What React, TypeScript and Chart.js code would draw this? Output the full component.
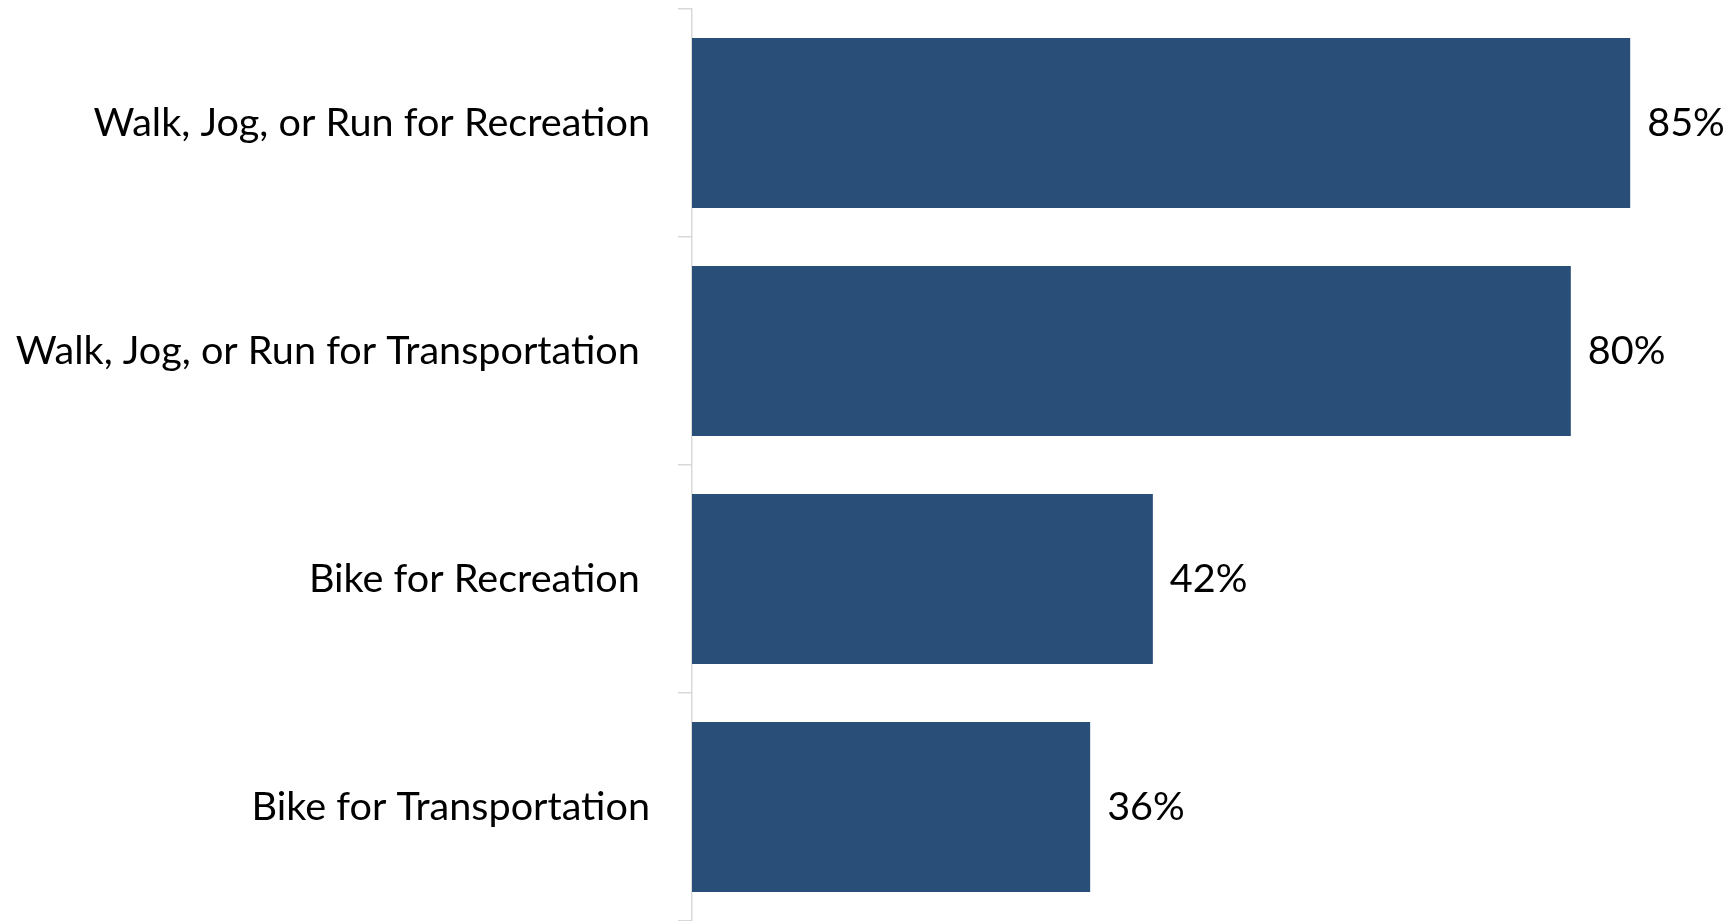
import React, { useEffect, useRef } from "react";
import { Chart, registerables } from "chart.js";

Chart.register(...registerables);

const categories = [
  "Walk, Jog, or Run for Recreation",
  "Walk, Jog, or Run for Transportation ",
  "Bike for Recreation ",
  "Bike for Transportation",
];
const values = [85.3, 79.9, 41.9, 36.2];
const valueLabels = ["85%", "80%", "42%", "36%"];

const FONT_FAMILY = "Lato, 'Noto Sans', sans-serif";
const FONT_SIZE = 39.6;
const BAR_COLOR = "#294E77";

const dataLabelPlugin = {
  id: "dataLabels",
  afterDatasetsDraw(chart: any) {
    const ctx = chart.ctx;
    const meta = chart.getDatasetMeta(0);
    ctx.save();
    ctx.font = `${FONT_SIZE}px ${FONT_FAMILY}`;
    ctx.fillStyle = "#000000";
    ctx.textAlign = "left";
    ctx.textBaseline = "middle";
    meta.data.forEach((bar: any, i: number) => {
      ctx.fillText(valueLabels[i], bar.x + 17, bar.y);
    });
    ctx.restore();
  },
};

export default function App() {
  const ref = useRef<HTMLCanvasElement | null>(null);
  useEffect(() => {
    if (!ref.current) return;
    const chart = new Chart(ref.current, {
      type: "bar",
      data: {
        labels: categories,
        datasets: [
          {
            data: values,
            backgroundColor: BAR_COLOR,
            borderWidth: 0,
            categoryPercentage: 1,
            barPercentage: 0.746,
          },
        ],
      },
      options: {
        indexAxis: "y",
        animation: false,
        responsive: true,
        maintainAspectRatio: false,
        layout: { padding: { top: 9, bottom: -3, left: 0, right: 0 } },
        plugins: {
          legend: { display: false },
          tooltip: { enabled: false },
        },
        scales: {
          x: {
            display: false,
            min: 0,
            max: 94.1,
          },
          y: {
            afterFit: (scale: any) => {
              scale.width = 692;
              scale.paddingTop = 0;
              scale.paddingBottom = 0;
            },
            grid: {
              offset: true,
              drawOnChartArea: false,
              drawTicks: true,
              tickLength: 14,
              color: "#D9D9D9",
              lineWidth: 1.5,
            },
            border: { display: true, color: "#D9D9D9", width: 1.5 },
            ticks: {
              padding: 28,
              color: "#000000",
              font: { family: FONT_FAMILY, size: FONT_SIZE },
            },
          },
        },
      },
      plugins: [dataLabelPlugin],
    });
    return () => chart.destroy();
  }, []);
  return (
    <div style={{ position: "absolute", left: 0, top: 0, width: 1727, height: 921, background: "#fff" }}>
      <canvas ref={ref} />
    </div>
  );
}
